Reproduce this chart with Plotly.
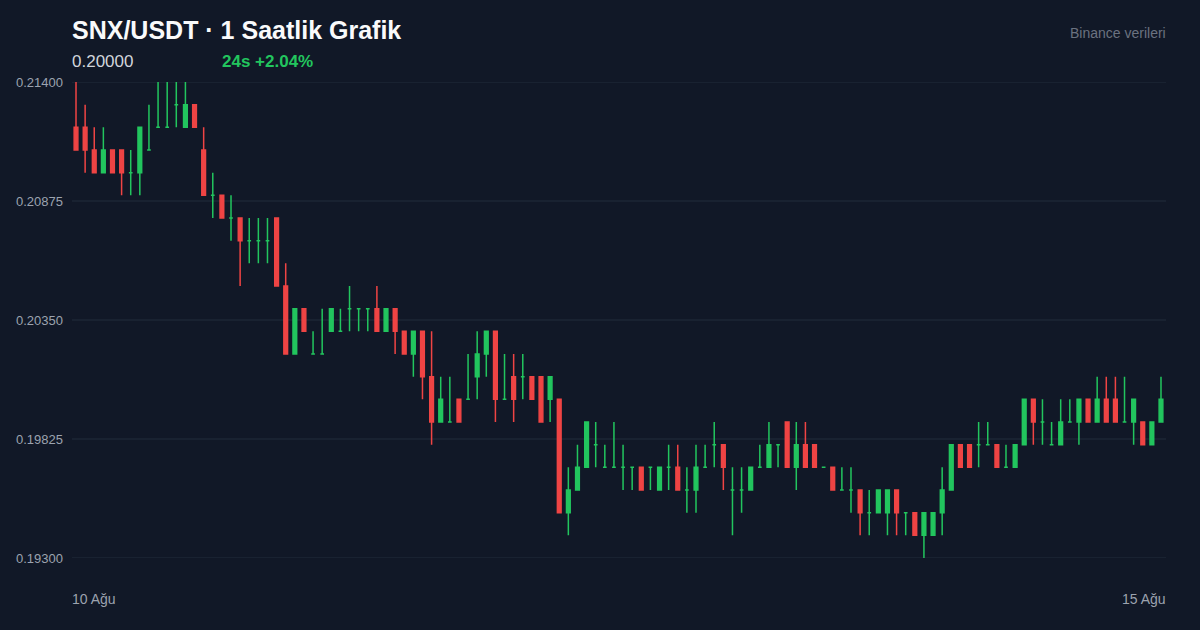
import plotly.graph_objects as go

# OHLC values (SNX/USDT, 1h candles, 10-15 Aug)
opens = [0.212,0.212,0.211,0.210,0.211,0.211,0.210,0.210,0.211,0.212,
         0.212,0.213,0.212,0.213,0.211,0.209,0.209,0.208,0.208,0.207,
         0.207,0.207,0.208,0.205,0.202,0.204,0.202,0.202,0.203,0.203,
         0.204,0.204,0.204,0.204,0.203,0.204,0.203,0.202,0.203,0.201,
         0.199,0.199,0.200,0.200,0.201,0.202,0.203,0.200,0.201,0.201,
         0.201,0.201,0.200,0.200,0.195,0.196,0.197,0.198,0.197,0.197,
         0.197,0.197,0.197,0.197,0.196,0.197,0.197,0.196,0.196,0.197,
         0.198,0.198,0.196,0.196,0.196,0.197,0.197,0.198,0.199,0.197,
         0.198,0.198,0.197,0.197,0.196,0.196,0.196,0.195,0.195,0.195,
         0.196,0.195,0.195,0.194,0.194,0.195,0.196,0.198,0.198,0.198,
         0.198,0.198,0.197,0.197,0.198,0.200,0.199,0.198,0.198,0.199,
         0.199,0.200,0.199,0.200,0.200,0.199,0.199,0.199,0.198,0.199]
highs = [0.214,0.213,0.212,0.212,0.211,0.211,0.211,0.212,0.213,0.214,
         0.214,0.214,0.214,0.213,0.212,0.210,0.209,0.209,0.208,0.208,
         0.208,0.208,0.208,0.206,0.204,0.204,0.203,0.204,0.204,0.204,
         0.205,0.204,0.204,0.205,0.204,0.204,0.203,0.203,0.203,0.203,
         0.201,0.201,0.200,0.202,0.203,0.203,0.203,0.202,0.202,0.202,
         0.201,0.201,0.201,0.200,0.197,0.198,0.199,0.199,0.198,0.199,
         0.198,0.197,0.197,0.197,0.197,0.198,0.198,0.197,0.198,0.198,
         0.199,0.198,0.197,0.197,0.197,0.198,0.199,0.198,0.199,0.199,
         0.199,0.198,0.197,0.197,0.197,0.197,0.196,0.196,0.196,0.196,
         0.196,0.195,0.195,0.195,0.195,0.197,0.198,0.198,0.198,0.199,
         0.199,0.198,0.198,0.198,0.200,0.200,0.200,0.199,0.200,0.200,
         0.200,0.200,0.201,0.201,0.201,0.201,0.200,0.199,0.199,0.201]
lows = [0.211,0.210,0.210,0.210,0.210,0.209,0.209,0.209,0.211,0.212,
        0.212,0.212,0.212,0.212,0.209,0.208,0.208,0.207,0.205,0.206,
        0.206,0.206,0.205,0.202,0.202,0.203,0.202,0.202,0.203,0.203,
        0.203,0.203,0.203,0.203,0.203,0.202,0.202,0.201,0.200,0.198,
        0.199,0.199,0.199,0.200,0.200,0.201,0.199,0.200,0.199,0.200,
        0.200,0.199,0.199,0.195,0.194,0.196,0.197,0.197,0.197,0.197,
        0.196,0.196,0.196,0.196,0.196,0.196,0.196,0.195,0.195,0.197,
        0.197,0.196,0.194,0.195,0.196,0.197,0.197,0.197,0.197,0.196,
        0.197,0.197,0.197,0.196,0.196,0.195,0.194,0.194,0.195,0.194,
        0.194,0.194,0.194,0.193,0.194,0.194,0.196,0.197,0.197,0.197,
        0.198,0.197,0.197,0.197,0.198,0.198,0.198,0.198,0.198,0.199,
        0.198,0.199,0.199,0.199,0.199,0.199,0.198,0.198,0.198,0.199]
closes = [0.211,0.211,0.210,0.211,0.210,0.210,0.210,0.212,0.211,0.212,
          0.212,0.213,0.213,0.212,0.209,0.209,0.208,0.208,0.207,0.207,
          0.207,0.207,0.205,0.202,0.204,0.203,0.202,0.202,0.204,0.203,
          0.204,0.204,0.204,0.203,0.204,0.203,0.202,0.203,0.201,0.199,
          0.200,0.199,0.199,0.200,0.202,0.203,0.200,0.200,0.200,0.201,
          0.200,0.199,0.201,0.195,0.196,0.197,0.199,0.198,0.197,0.197,
          0.197,0.197,0.196,0.197,0.197,0.197,0.196,0.196,0.197,0.197,
          0.198,0.197,0.196,0.196,0.197,0.197,0.198,0.198,0.197,0.198,
          0.197,0.197,0.197,0.196,0.196,0.196,0.195,0.195,0.196,0.196,
          0.195,0.195,0.194,0.195,0.195,0.196,0.198,0.197,0.197,0.198,
          0.198,0.197,0.197,0.198,0.200,0.199,0.199,0.198,0.199,0.199,
          0.200,0.199,0.200,0.199,0.199,0.199,0.200,0.198,0.199,0.200]

y_ticks = [0.193, 0.19825, 0.2035, 0.20875, 0.214]
y_tick_labels = ["0.19300", "0.19825", "0.20350", "0.20875", "0.21400"]
date_labels = ["10 Ağu", "15 Ağu"]
title_text = "SNX/USDT · 1 Saatlik Grafik"
last_price = "0.20000"
change_text = "24s +2.04%"
source_text = "Binance verileri"

UP = "#22c55e"
DOWN = "#ef4444"
BG = "#111827"
GRID = "#232d3d"
FONT = "Liberation Sans, Arial, sans-serif"

idx = list(range(len(opens)))
up_i = [i for i in idx if closes[i] >= opens[i]]
dn_i = [i for i in idx if closes[i] < opens[i]]

fig = go.Figure()
for sel, col in ((up_i, UP), (dn_i, DOWN)):
    fig.add_trace(go.Candlestick(
        x=sel,
        open=[opens[i] for i in sel], high=[highs[i] for i in sel],
        low=[lows[i] for i in sel], close=[closes[i] for i in sel],
        increasing=dict(line=dict(color=col, width=1.5), fillcolor=col),
        decreasing=dict(line=dict(color=col, width=1.5), fillcolor=col),
        whiskerwidth=0, showlegend=False, hoverinfo="skip",
    ))

# horizontal grid lines at each price tick
for v in y_ticks:
    fig.add_shape(type="line", xref="paper", yref="y", x0=0, x1=1, y0=v, y1=v,
                  line=dict(color=GRID, width=1), layer="below")

n = len(opens)
fig.update_layout(
    width=1200, height=630,
    paper_bgcolor=BG, plot_bgcolor=BG,
    margin=dict(l=72, r=34, t=82, b=72),
    boxgap=0.42,
    font=dict(family=FONT, color="#9ca3af"),
    xaxis=dict(range=[-0.44, n - 1 + 0.55], showgrid=False, zeroline=False,
               showticklabels=False, rangeslider=dict(visible=False),
               showline=False, fixedrange=True),
    yaxis=dict(range=[0.193, 0.214], tickvals=y_ticks, ticktext=y_tick_labels,
               showgrid=False, zeroline=False,
               tickfont=dict(size=13, color="#9ca3af", family=FONT),
               ticklabelstandoff=8, showline=False),
    annotations=[
        dict(text="<b>" + title_text + "</b>", x=0, y=1, xref="paper", yref="paper",
             xanchor="left", yanchor="middle", yshift=52, xshift=-2, showarrow=False,
             font=dict(size=25, color="#f9fafb", family=FONT)),
        dict(text=last_price, x=0, y=1, xref="paper", yref="paper",
             xanchor="left", yanchor="middle", yshift=21, xshift=-2, showarrow=False,
             font=dict(size=17, color="#d1d5db", family=FONT)),
        dict(text="<b>" + change_text + "</b>", x=150 / 1094, y=1, xref="paper", yref="paper",
             xanchor="left", yanchor="middle", yshift=21, xshift=-2, showarrow=False,
             font=dict(size=17, color=UP, family=FONT)),
        dict(text=source_text, x=1, y=1, xref="paper", yref="paper",
             xanchor="right", yanchor="middle", yshift=49, xshift=2, showarrow=False,
             font=dict(size=14, color="#6b7280", family=FONT)),
        dict(text=date_labels[0], x=0, y=0, xref="paper", yref="paper",
             xanchor="left", yanchor="middle", yshift=-41, xshift=-2, showarrow=False,
             font=dict(size=14, color="#9ca3af", family=FONT)),
        dict(text=date_labels[1], x=1, y=0, xref="paper", yref="paper",
             xanchor="right", yanchor="middle", yshift=-41, xshift=2, showarrow=False,
             font=dict(size=14, color="#9ca3af", family=FONT)),
    ],
)

fig.write_html("out.html", config={"displayModeBar": False},
               post_script="document.body.style.margin='0';document.body.style.background='%s';" % BG)
